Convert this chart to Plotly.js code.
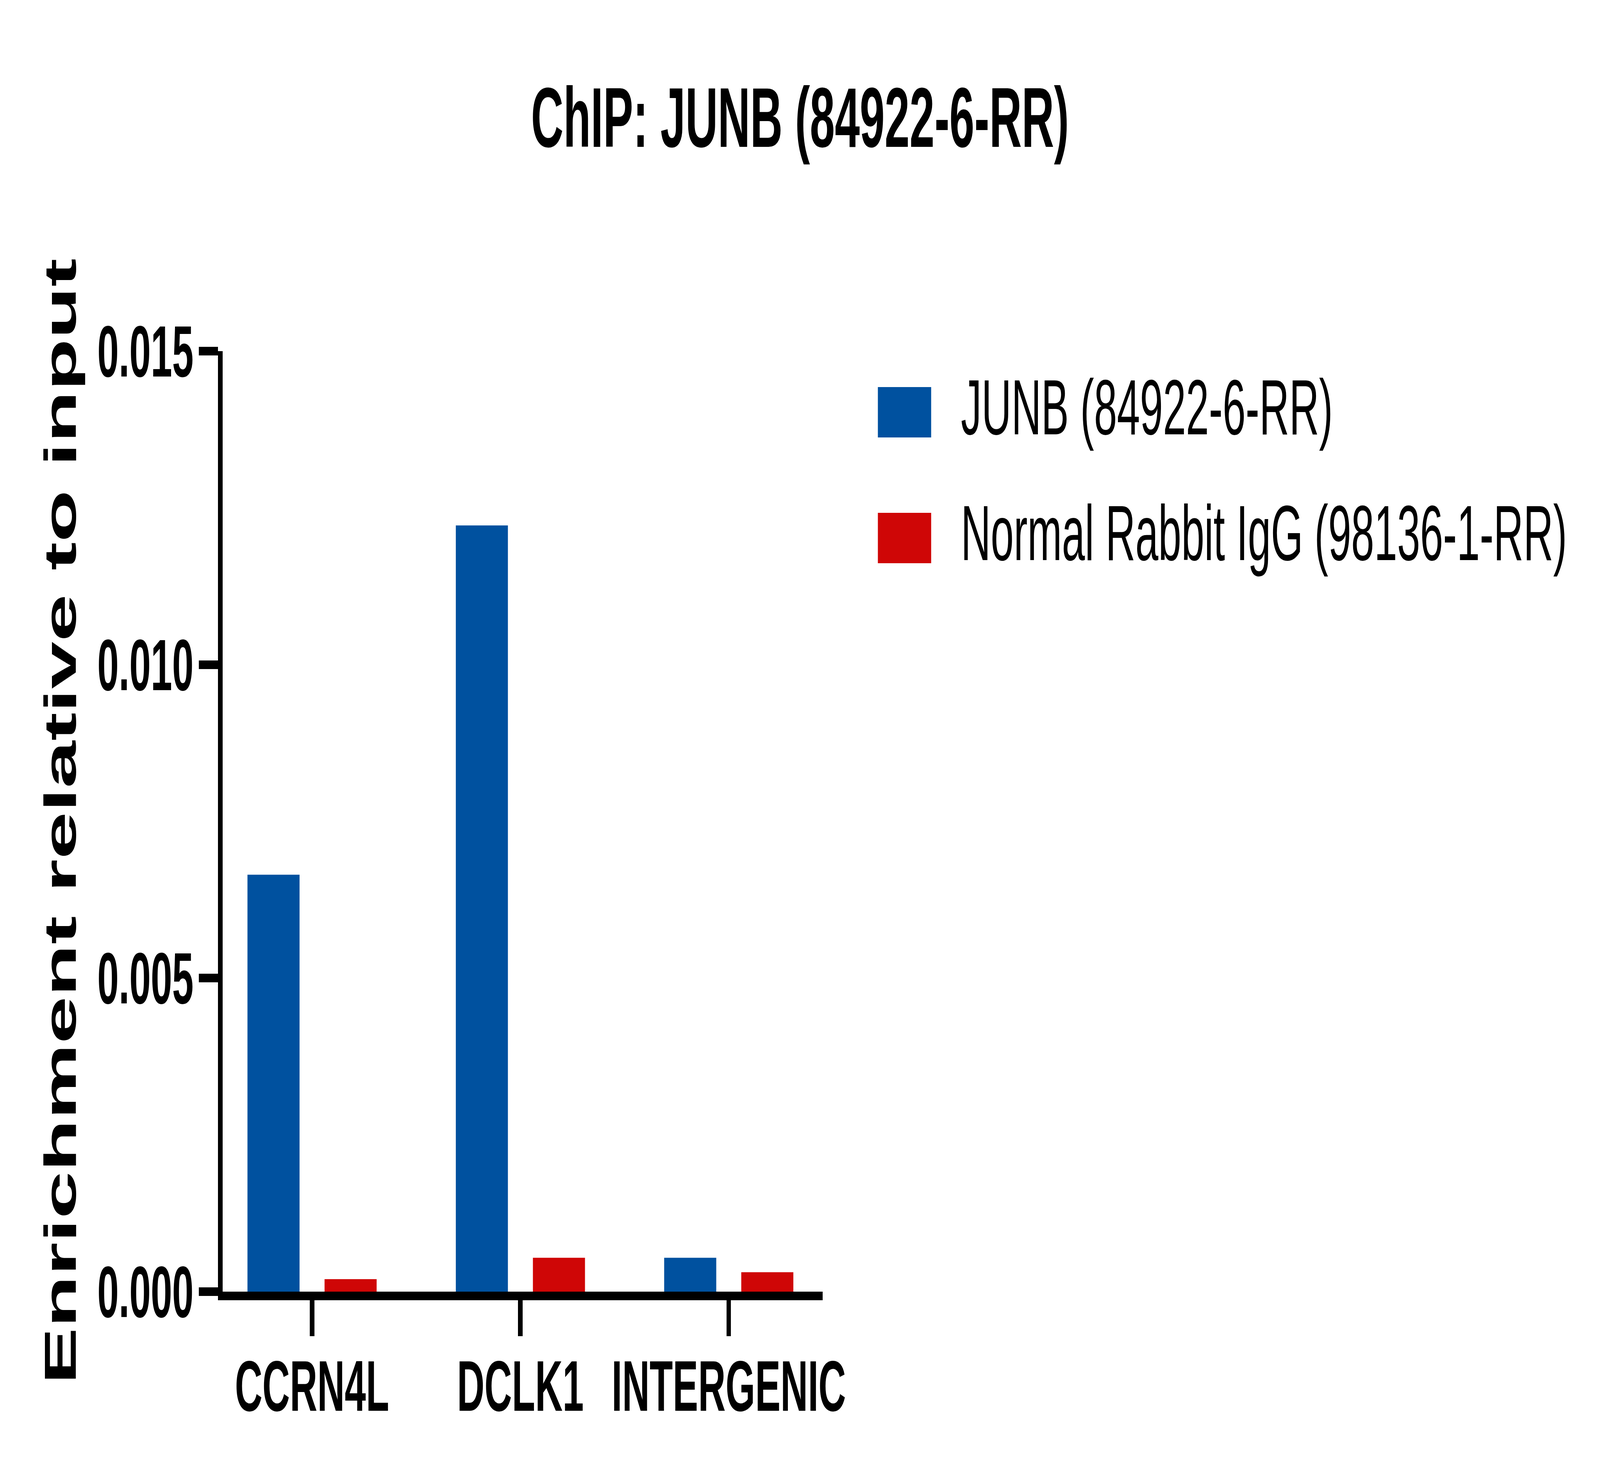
<!DOCTYPE html>
<html>
<head>
<meta charset="utf-8">
<script src="https://cdn.plot.ly/plotly-3.0.1.min.js"></script>
<style>
  body { margin: 0; background: #ffffff; overflow: hidden; }
  #chart { width: 7746px; height: 3779px; transform-origin: 0 0; }
</style>
</head>
<body>
<div id="chart"></div>
<script>
// values
const categories = ["CCRN4L", "DCLK1", "INTERGENIC"];
const junbValues = [0.00665, 0.01222, 0.00054];
const iggValues = [0.00020, 0.00054, 0.00031];
const seriesNames = ["JUNB (84922-6-RR)", "Normal Rabbit IgG (98136-1-RR)"];
const seriesColors = ["#00519F", "#CF0606"];
const yTicks = [0, 0.005, 0.010, 0.015];

const W = 7746, H = 3779;
const plotL = 1077, plotR = 3982, plotT = 899, plotB = 3307;
const FONT = "Liberation Sans, Arial, sans-serif";

// the window may be narrower than the chart, so fit the chart to it
let chartDiv = document.getElementById("chart");
let sx = Math.min(1, window.innerWidth / W);
let sy = Math.min(1, window.innerHeight / H);
chartDiv.style.transform = "scale(" + sx + "," + sy + ")";

// pixel -> paper helpers for the hand-made legend
function px(x) { return (x - plotL) / (plotR - plotL); }
function py(y) { return (plotB - y) / (plotB - plotT); }

let junb = {
    x: categories,
    y: junbValues,
    type: "bar",
    name: seriesNames[0],
    width: 0.25,
    offset: -0.31,
    marker: { color: seriesColors[0], line: { width: 0 } },
    showlegend: false
};
let igg = {
    x: categories,
    y: iggValues,
    type: "bar",
    name: seriesNames[1],
    width: 0.25,
    offset: 0.06,
    marker: { color: seriesColors[1], line: { width: 0 } },
    showlegend: false
};

// legend rows (swatch + label)
let legendRows = [
    { top: 991, bottom: 1120 },
    { top: 1313, bottom: 1442 }
];
let shapes = [];
let annotations = [];
legendRows.forEach(function (row, i) {
    shapes.push({
        type: "rect", xref: "paper", yref: "paper",
        x0: px(4250), x1: px(4508), y0: py(row.bottom), y1: py(row.top),
        fillcolor: seriesColors[i], line: { width: 0 }
    });
    annotations.push({
        xref: "paper", yref: "paper",
        x: px(4650), y: py((row.top + row.bottom) / 2 - 13),
        xanchor: "left", yanchor: "middle",
        text: seriesNames[i], showarrow: false,
        font: { family: FONT, size: 200, color: "#000000" }
    });
});

let layout = {
    width: W,
    height: H,
    paper_bgcolor: "#ffffff",
    plot_bgcolor: "#ffffff",
    font: { family: FONT, color: "#000000" },
    margin: { l: plotL, r: W - plotR, t: plotT, b: H - plotB, pad: 0 },
    showlegend: false,
    barmode: "group",
    title: {
        text: "ChIP: JUNB (84922-6-RR)",
        font: { family: FONT, size: 217, weight: "bold", color: "#000000" },
        xref: "container", x: 0.5, xanchor: "center",
        yref: "container", y: 1 - 300 / H, yanchor: "middle"
    },
    xaxis: {
        type: "category",
        range: [-0.43, 2.45],
        showline: true, linecolor: "#000000", linewidth: 22,
        showgrid: false, zeroline: false,
        ticks: "outside", ticklen: 92, tickwidth: 22, tickcolor: "#000000",
        ticklabelstandoff: -30,
        tickfont: { family: FONT, size: 184, weight: "bold", color: "#000000" },
        fixedrange: true
    },
    yaxis: {
        range: [0, 0.015],
        tickvals: yTicks,
        tickformat: ".3f",
        showline: true, linecolor: "#000000", linewidth: 22,
        showgrid: false, zeroline: false,
        ticks: "outside", ticklen: 92, tickwidth: 22, tickcolor: "#000000",
        ticklabelstandoff: -11,
        tickfont: { family: FONT, size: 186, weight: "bold", color: "#000000" },
        title: {
            text: "Enrichment relative to input",
            font: { family: FONT, size: 218, weight: "bold", color: "#000000" },
            standoff: 40
        },
        fixedrange: true
    },
    shapes: shapes,
    annotations: annotations
};

Plotly.newPlot(chartDiv, [junb, igg], layout, { displayModeBar: false, staticPlot: true });
</script>
</body>
</html>
